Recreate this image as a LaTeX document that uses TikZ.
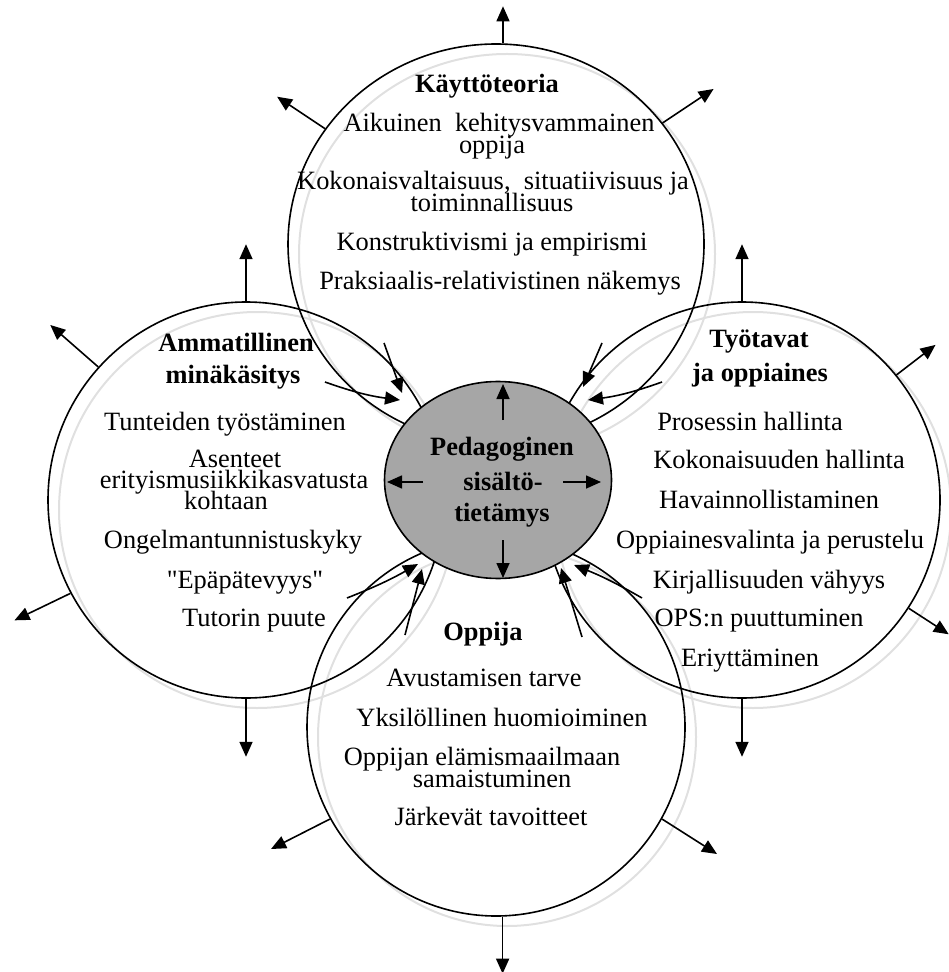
\documentclass[tikz,border=0pt]{standalone}
\usepackage{fontspec}
\setmainfont{Liberation Serif}[Ligatures=TeXOff]
\usetikzlibrary{arrows.meta,shapes.geometric}
\begin{document}
\begin{tikzpicture}[x=0.5pt,y=-0.5pt,
  circ/.style={draw=black, line width=0.8pt, ellipse, inner sep=0pt},
  shad/.style={draw=black!12, line width=1pt},
  arr/.style={line width=0.8pt, -{Triangle[length=7.5pt,width=6.5pt]}},
  txt/.style={font=\fontsize{13.2}{15}\selectfont, inner sep=0pt, anchor=base},
  ttl/.style={txt, font=\fontsize{13.2}{15}\selectfont\bfseries},
]
\useasboundingbox (0,0) rectangle (948,972);

% shadows
\draw[shad] (507,254) ellipse [x radius=104pt, y radius=100pt];
\draw[shad] (257,510) ellipse [x radius=99pt, y radius=99pt];
\draw[shad] (753,510) ellipse [x radius=99pt, y radius=99pt];
\draw[shad] (507,737) ellipse [x radius=94.5pt, y radius=94.5pt];

% circles
\node[circ, minimum width=208pt, minimum height=200pt] (T) at (496,244) {};
\node[circ, minimum width=198pt, minimum height=198pt] (L) at (246,500) {};
\node[circ, minimum width=198pt, minimum height=198pt] (R) at (742,500) {};
\node[circ, minimum width=189pt, minimum height=189pt] (B) at (496,727) {};

% centre ellipse
\node[circ, fill=black!35, minimum width=113.5pt, minimum height=98.5pt] (E) at (498,480) {};

% outward arrows
\draw[arr] (T.88) -- ++(0,-37);
\draw[arr] (T.146) -- ++(-48,-32);
\draw[arr] (T.36) -- ++(51,-34);
\draw[arr] (L.90) -- ++(0,-57);
\draw[arr] (L.138) -- ++(-48,-42);
\draw[arr] (L.208) -- ++(-56,27);
\draw[arr] (L.270) -- ++(0,58);
\draw[arr] (R.90) -- ++(0,-57);
\draw[arr] (R.39) -- ++(39,-30);
\draw[arr] (R.-33) -- ++(40,26);
\draw[arr] (R.270) -- ++(0,58);
\draw[arr] (B.209) -- ++(-59,30);
\draw[arr] (B.-29) -- ++(55,35);
\draw[arr] (B.272) -- ++(0,57);

% inward arrows
\coordinate (ul1a) at (384,343); \coordinate (ul1b) at (402,393);
\coordinate (ul2a) at (325,382); \coordinate (ul2b) at (400,400);
\coordinate (ur1a) at (602,343); \coordinate (ur1b) at (583,387);
\coordinate (ur2a) at (662,382); \coordinate (ur2b) at (588,400);
\coordinate (ll1a) at (347,598); \coordinate (ll1b) at (418,564);
\coordinate (ll2a) at (405,635); \coordinate (ll2b) at (422,569);
\coordinate (lr1a) at (582,637); \coordinate (lr1b) at (561,568);
\coordinate (lr2a) at (642,598); \coordinate (lr2b) at (574,565);
\draw[arr] (ul1a) -- (ul1b);
\draw[arr] (ul2a) to[bend right=6] (ul2b);
\draw[arr] (ur1a) -- (ur1b);
\draw[arr] (ur2a) to[bend left=6] (ur2b);
\draw[arr] (ll1a) to[bend right=4] (ll1b);
\draw[arr] (ll2a) -- (ll2b);
\draw[arr] (lr1a) -- (lr1b);
\draw[arr] (lr2a) to[bend right=4] (lr2b);

% arrows inside the centre
\coordinate (eu1) at (503,420); \coordinate (eu2) at (503,384);
\coordinate (el1) at (423,482); \coordinate (el2) at (387,482);
\coordinate (er1) at (563,482); \coordinate (er2) at (601,482);
\coordinate (ed1) at (503,540); \coordinate (ed2) at (503,578);
\draw[arr] (eu1) -- (eu2);
\draw[arr] (el1) -- (el2);
\draw[arr] (er1) -- (er2);
\draw[arr] (ed1) -- (ed2);

% centre text
\node[ttl] (e1) at (502,455) {Pedagoginen};
\node[ttl] (e2) at (503,490) {sisältö-};
\node[ttl] (e3) at (502,521) {tietämys};

% top circle text
\node[ttl] (t0) at (487,93) {Käyttöteoria};
\node[txt] (t1) at (499,132) {Aikuinen\ \ kehitysvammainen};
\node[txt] (t1b) at (492,154) {oppija};
\node[txt] (t2) at (493,190) {Kokonaisvaltaisuus,\ \ situatiivisuus ja};
\node[txt] (t2b) at (492,212) {toiminnallisuus};
\node[txt] (t3) at (492,251) {Konstruktivismi ja empirismi};
\node[txt] (t4) at (500,290) {Praksiaalis-relativistinen näkemys};

% left circle text
\node[ttl] (l0) at (236,351) {Ammatillinen};
\node[ttl] (l0b) at (233,383) {minäkäsitys};
\node[txt] (l1) at (225,430) {Tunteiden työstäminen};
\node[txt] (l2) at (235,467) {Asenteet};
\node[txt] (l2b) at (234,488) {erityismusiikkikasvatusta};
\node[txt] (l2c) at (226,509) {kohtaan};
\node[txt] (l3) at (233,548) {Ongelmantunnistuskyky};
\node[txt] (l4) at (245,588) {"Epäpätevyys"};
\node[txt] (l5) at (254,626) {Tutorin puute};

% right circle text
\node[ttl] (r0) at (759,348) {Työtavat};
\node[ttl] (r0b) at (760,381) {ja oppiaines};
\node[txt] (r1) at (750,430) {Prosessin hallinta};
\node[txt] (r2) at (779,468) {Kokonaisuuden hallinta};
\node[txt] (r3) at (769,508) {Havainnollistaminen};
\node[txt] (r4) at (770,548) {Oppiainesvalinta ja perustelu};
\node[txt] (r5) at (769,588) {Kirjallisuuden vähyys};
\node[txt] (r6) at (759,626) {OPS:n puuttuminen};
\node[txt] (r7) at (750,666) {Eriyttäminen};

% bottom circle text
\node[ttl] (b0) at (483,640) {Oppija};
\node[txt] (b1) at (484,686) {Avustamisen tarve};
\node[txt] (b2) at (502,726) {Yksilöllinen huomioiminen};
\node[txt] (b3) at (482,765) {Oppijan elämismaailmaan};
\node[txt] (b3b) at (492,787) {samaistuminen};
\node[txt] (b4) at (491,825) {Järkevät tavoitteet};
\end{tikzpicture}
\end{document}
